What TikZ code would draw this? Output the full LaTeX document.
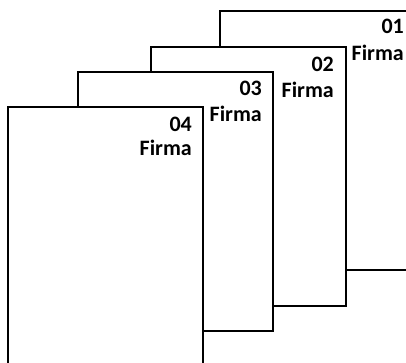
\documentclass[tikz,border=0pt]{standalone}
\usepackage{fontspec}
\setmainfont{Carlito}
\usetikzlibrary{positioning}
\definecolor{fg}{rgb}{0,0,0}
\tikzstyle{sheet}=[draw=fg, fill=white, line width=2pt, inner sep=0pt,
minimum width=195pt, minimum height=259pt]
\tikzstyle{tag}=[inner sep=0pt, anchor=base east, text=fg,
font=\fontsize{22}{26}\selectfont\bfseries]

\begin{document}
\begin{tikzpicture}[x=1pt, y=1pt]

    \useasboundingbox (0,0) rectangle (406,-363);
    \clip (0,0) rectangle (406,-363);

    \node[sheet] (s1) at (317.5,-140.5) {};
    \node[tag, xshift=-12pt, yshift=-24pt] (num1) at (s1.north east) {01};
    \node[tag, yshift=-27pt] (firma1) at (num1.base east) {Firma};

    \node[sheet] (s2) at (248.5,-176.5) {};
    \node[tag, xshift=-13pt, yshift=-26pt] (num2) at (s2.north east) {02};
    \node[tag, yshift=-26pt] (firma2) at (num2.base east) {Firma};

    \node[sheet] (s3) at (175.5,-201.5) {};
    \node[tag, xshift=-12pt, yshift=-25pt] (num3) at (s3.north east) {03};
    \node[tag, yshift=-26pt] (firma3) at (num3.base east) {Firma};

    \node[sheet] (s4) at (105.5,-236.5) {};
    \node[tag, xshift=-12pt, yshift=-26pt] (num4) at (s4.north east) {04};
    \node[tag, yshift=-24pt] (firma4) at (num4.base east) {Firma};

\end{tikzpicture}
\end{document}
